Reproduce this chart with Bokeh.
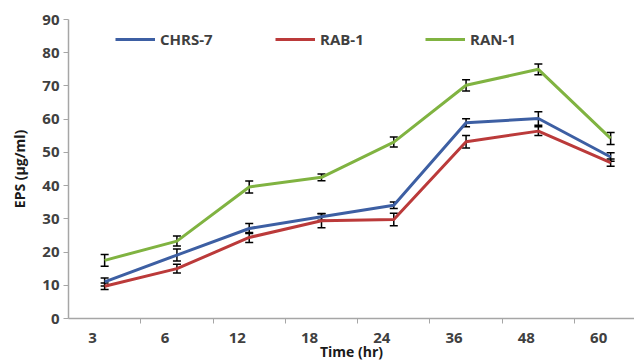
from bokeh.plotting import figure
from bokeh.models import (ColumnDataSource, Whisker, TeeHead, FixedTicker, Range1d,
                          Legend, LegendItem)
from bokeh.embed import file_html
from bokeh.resources import INLINE

times = ["3", "6", "12", "18", "24", "36", "48", "60"]
chrs7 = [11.0, 19.1, 27.1, 30.6, 34.1, 58.9, 60.2, 48.6]
chrs7_err = [1.2, 1.8, 1.5, 1.0, 1.0, 1.2, 2.0, 1.3]
rab1 = [9.7, 15.0, 24.4, 29.4, 29.8, 53.2, 56.4, 46.9]
rab1_err = [1.0, 1.3, 1.5, 2.1, 1.9, 1.9, 1.3, 1.1]
ran1 = [17.5, 23.3, 39.6, 42.5, 53.1, 70.2, 75.0, 54.2]
ran1_err = [1.8, 1.5, 1.8, 1.0, 1.5, 1.7, 1.6, 1.8]
y_ticks = [0, 10, 20, 30, 40, 50, 60, 70, 80, 90]

series = [("CHRS-7", chrs7, chrs7_err, "#3d5fa3"),
          ("RAB-1", rab1, rab1_err, "#bb3a3a"),
          ("RAN-1", ran1, ran1_err, "#80b341")]

idx = list(range(len(times)))
label_shift = 0.166

p = figure(width=634, height=363, output_backend="svg", toolbar_location=None,
           x_range=Range1d(-0.5, 7.33), y_range=Range1d(0, 90),
           min_border_left=68, min_border_right=0, min_border_top=19, min_border_bottom=45)
p.outline_line_color = None
p.grid.grid_line_color = None
p.background_fill_color = "white"
p.border_fill_color = "white"

renderers = []
for name, vals, errs, col in series:
    src = ColumnDataSource(dict(x=idx, y=vals,
                                upper=[v + e for v, e in zip(vals, errs)],
                                lower=[v - e for v, e in zip(vals, errs)]))
    r = p.line("x", "y", source=src, line_color=col, line_width=3)
    renderers.append((name, r))
    w = Whisker(source=src, base="x", upper="upper", lower="lower",
                line_color="black", line_width=1.5,
                upper_head=TeeHead(size=8, line_color="black", line_width=1.5),
                lower_head=TeeHead(size=8, line_color="black", line_width=1.5))
    p.add_layout(w)

# x axis
p.xaxis.ticker = FixedTicker(ticks=[i - label_shift for i in idx],
                             minor_ticks=[i + 0.5 for i in idx])
p.xaxis.major_label_overrides = {i - label_shift: t for i, t in zip(idx, times)}
p.xaxis.major_tick_line_color = None
p.xaxis.minor_tick_in = 0
p.xaxis.minor_tick_out = 5
p.xaxis.minor_tick_line_color = "#a6a6a6"
p.xaxis.axis_line_color = "#a6a6a6"
p.xaxis.axis_line_width = 1.5
p.xaxis.major_label_standoff = 8
p.xaxis.axis_label = "Time (hr)"
p.xaxis.axis_label_standoff = -4

# y axis
p.yaxis.ticker = FixedTicker(ticks=y_ticks)
p.yaxis.major_tick_in = 0
p.yaxis.major_tick_out = 5
p.yaxis.minor_tick_line_color = None
p.yaxis.major_tick_line_color = "#a6a6a6"
p.yaxis.axis_line_color = "#a6a6a6"
p.yaxis.axis_line_width = 1.5
p.yaxis.major_label_standoff = 4
p.yaxis.axis_label = "EPS (µg/ml)"
p.yaxis.axis_label_standoff = 10

for ax in (p.xaxis, p.yaxis):
    ax.major_label_text_font = "Open Sans"
    ax.major_label_text_font_size = "15px"
    ax.major_label_text_font_style = "bold"
    ax.major_label_text_color = "#404040"
    ax.axis_label_text_font = "Open Sans"
    ax.axis_label_text_font_size = "14px"
    ax.axis_label_text_font_style = "bold"
    ax.axis_label_text_color = "#1a1a1a"

leg_x = [47, 207, 357]
for (name, r), lx in zip(renderers, leg_x):
    lg = Legend(items=[LegendItem(label=name, renderers=[r])],
                location=(lx, 269), orientation="horizontal",
                padding=0, margin=0, border_line_color=None,
                background_fill_alpha=0, glyph_width=40, glyph_height=20,
                label_standoff=5, label_text_font="Open Sans",
                label_text_font_size="15px", label_text_font_style="bold",
                label_text_color="#404040")
    p.add_layout(lg)

open("out.html", "w").write(file_html(p, INLINE))
